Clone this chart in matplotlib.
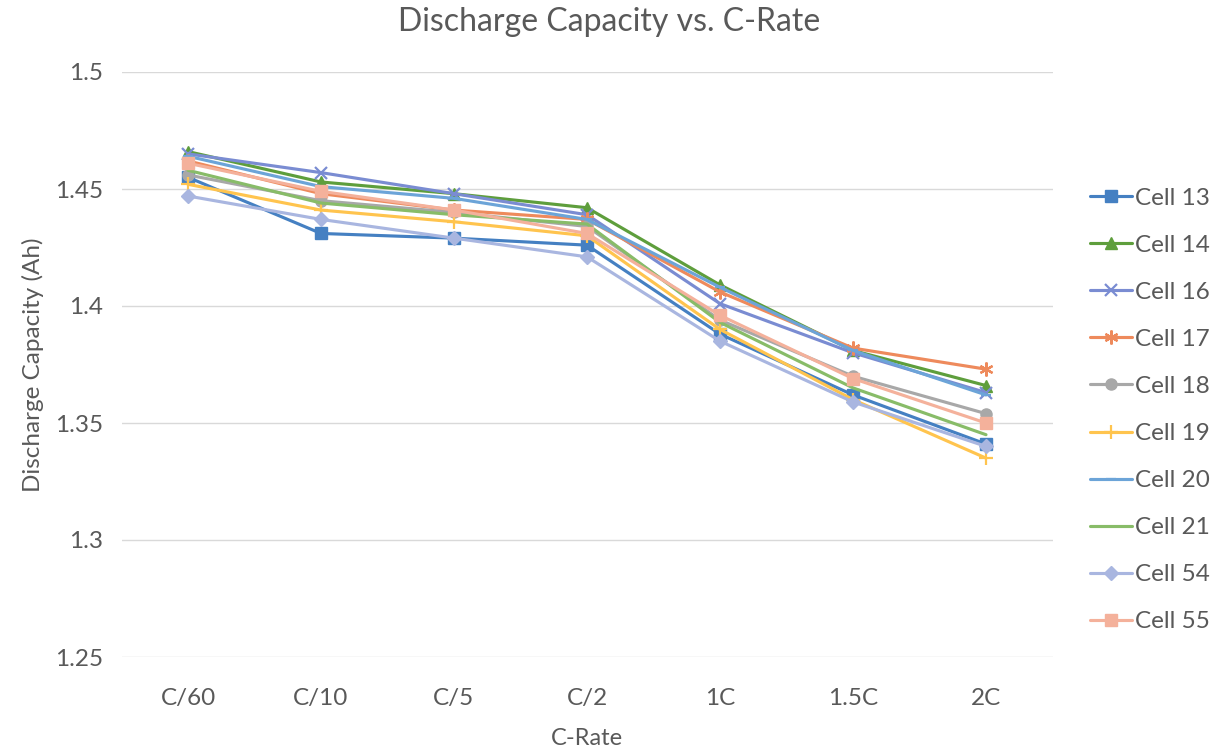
import matplotlib
matplotlib.use("Agg")
import matplotlib.pyplot as plt

c_rates = ["C/60", "C/10", "C/5", "C/2", "1C", "1.5C", "2C"]

cell_13 = [1.455, 1.431, 1.429, 1.426, 1.388, 1.362, 1.341]
cell_14 = [1.466, 1.453, 1.448, 1.442, 1.409, 1.381, 1.366]
cell_16 = [1.465, 1.457, 1.448, 1.439, 1.401, 1.380, 1.363]
cell_17 = [1.462, 1.448, 1.441, 1.437, 1.406, 1.382, 1.373]
cell_18 = [1.456, 1.445, 1.440, 1.434, 1.394, 1.370, 1.354]
cell_19 = [1.452, 1.441, 1.436, 1.430, 1.390, 1.360, 1.335]
cell_20 = [1.464, 1.451, 1.446, 1.437, 1.408, 1.381, 1.362]
cell_21 = [1.458, 1.444, 1.439, 1.435, 1.393, 1.365, 1.345]
cell_54 = [1.447, 1.437, 1.429, 1.421, 1.385, 1.359, 1.340]
cell_55 = [1.461, 1.449, 1.441, 1.431, 1.396, 1.369, 1.350]

series_names = ["Cell 13", "Cell 14", "Cell 16", "Cell 17", "Cell 18",
                "Cell 19", "Cell 20", "Cell 21", "Cell 54", "Cell 55"]
series_values = [cell_13, cell_14, cell_16, cell_17, cell_18,
                 cell_19, cell_20, cell_21, cell_54, cell_55]

colors = ["#4580C2", "#5E9E3C", "#7A8CD2", "#EE8A5C", "#A8A8A8",
          "#FFC44E", "#6CA4D8", "#88BC68", "#A9B6E0", "#F4B19B"]
markers = ["s", "^", "x", (6, 2, 0), "o", "+", "_", None, "D", "s"]
msizes = [8, 8, 9, 10, 8, 10, 7, 0, 7, 9]

plt.rcParams["font.family"] = ["Lato", "DejaVu Sans"]
text_color = "#595959"

fig = plt.figure(figsize=(12.19, 7.51), dpi=100)
ax = fig.add_axes([121.5 / 1219, 1 - 657 / 751, 931 / 1219, 585 / 751])

x = list(range(len(c_rates)))
for name, vals, col, mk, ms in zip(series_names, series_values, colors, markers, msizes):
    ax.plot(x, vals, color=col, lw=2.25, marker=mk, markersize=ms,
            markeredgewidth=1.6 if mk in ("x", "+", "_", (6, 2, 0)) else 1.0,
            markeredgecolor=col, markerfacecolor=col, label=name,
            solid_capstyle="round", solid_joinstyle="round")

ax.set_xlim(-0.5, len(c_rates) - 0.5)
ax.set_ylim(1.25, 1.5)
ax.set_yticks([1.25, 1.3, 1.35, 1.4, 1.45, 1.5])
ax.set_yticklabels(["1.25", "1.3", "1.35", "1.4", "1.45", "1.5"])
ax.set_xticks(x)
ax.set_xticklabels(c_rates)
ax.grid(axis="y", color="#D9D9D9", lw=1)
ax.set_axisbelow(True)
for s in ax.spines.values():
    s.set_visible(False)
ax.tick_params(length=0, labelsize=17.5, colors=text_color)
ax.tick_params(axis="x", pad=22)
ax.tick_params(axis="y", pad=13)

ax.set_xlabel("C-Rate", fontsize=17, color=text_color, labelpad=14)
ax.set_ylabel("Discharge Capacity (Ah)", fontsize=17.5, color=text_color, labelpad=8)
fig.text(0.5, 1 - 22 / 751, "Discharge Capacity vs. C-Rate", ha="center", va="center",
         fontsize=23, color=text_color)

leg = ax.legend(loc="center left", bbox_to_anchor=(1080 / 1219, 1 - 410 / 751),
                bbox_transform=fig.transFigure, frameon=False, fontsize=17.5,
                labelspacing=1.07, handlelength=1.75, handletextpad=0.12, borderaxespad=0)
for t in leg.get_texts():
    t.set_color(text_color)

fig.savefig("out.png", dpi=100)
